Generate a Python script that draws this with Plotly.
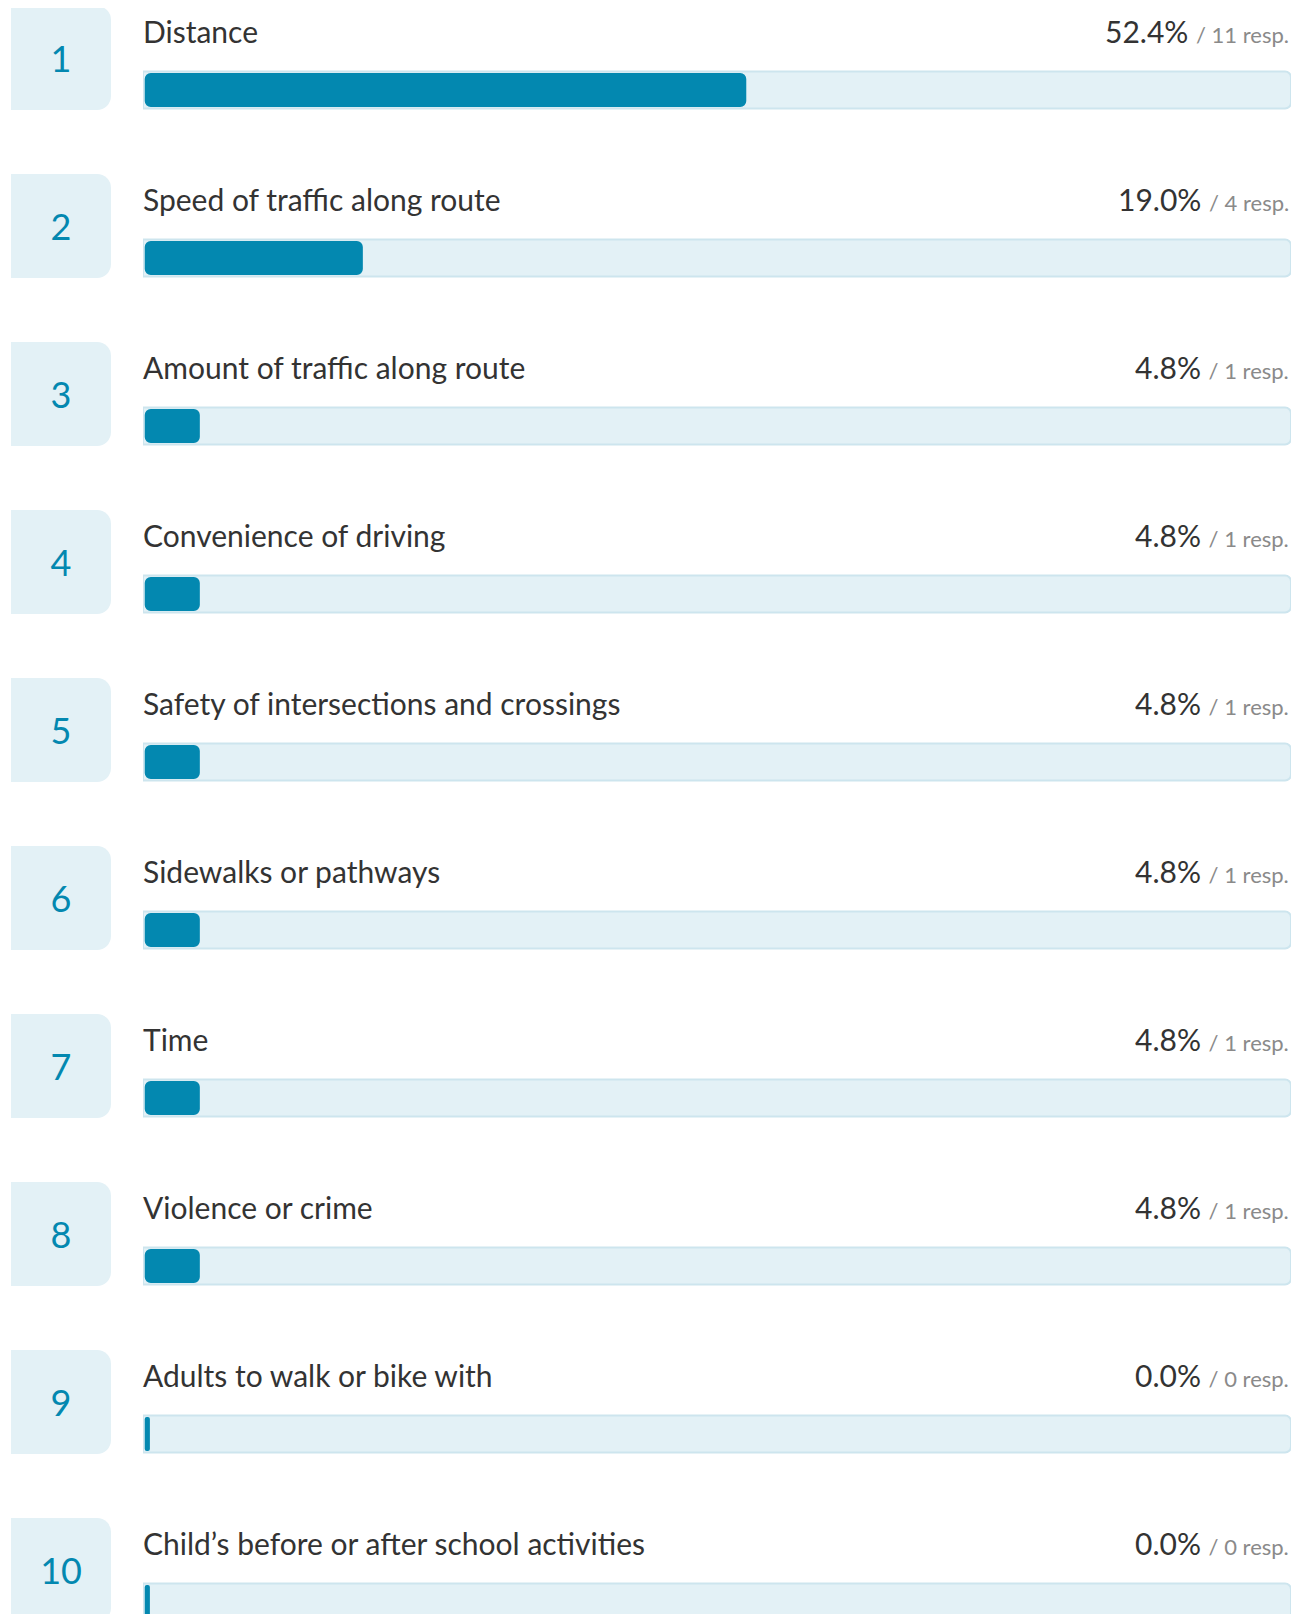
import plotly.graph_objects as go

# ---- data ----
ranks = [1, 2, 3, 4, 5, 6, 7, 8, 9, 10]
labels = [
    "Distance",
    "Speed of traffic along route",
    "Amount of traffic along route",
    "Convenience of driving",
    "Safety of intersections and crossings",
    "Sidewalks or pathways",
    "Time",
    "Violence or crime",
    "Adults to walk or bike with",
    "Child’s before or after school activities",
]
percents = [52.4, 19.0, 4.8, 4.8, 4.8, 4.8, 4.8, 4.8, 0.0, 0.0]
responses = [11, 4, 1, 1, 1, 1, 1, 1, 0, 0]

# ---- style ----
PAGE_MARGIN = 8        # browser default body margin
W, H = 1303 - PAGE_MARGIN, 1614 - PAGE_MARGIN
PITCH = 168.0          # px per row
TRACK_CENTER0 = 90.0 - PAGE_MARGIN
FONT = "Lato"
DARK = "#333333"
BLUE = "#0388b0"
LIGHT = "#e3f1f6"
BORDER = "#cde5ee"
GRAY = "#8a8a8a"

rows = list(range(len(labels)))
y_top = -TRACK_CENTER0 / PITCH
y_bot = (H - TRACK_CENTER0) / PITCH

fig = go.Figure()

# number boxes
fig.add_trace(go.Bar(
    x=[1] * len(rows), y=rows, orientation="h",
    xaxis="x2", yaxis="y",
    width=104 / PITCH, offset=-84 / PITCH,
    marker=dict(color=LIGHT, cornerradius=14, line=dict(width=0)),
    text=[str(r) for r in ranks], textposition="inside",
    insidetextanchor="middle", textangle=0, constraintext="none",
    textfont=dict(family=FONT, size=36, color=BLUE),
    hoverinfo="skip",
))

# tracks
fig.add_trace(go.Bar(
    x=[100] * len(rows), y=rows, orientation="h",
    width=37 / PITCH,
    marker=dict(color=LIGHT, cornerradius=6, line=dict(width=2, color=BORDER)),
    hoverinfo="skip",
))

# value fills (tiny minimum so 0% shows a sliver)
fig.add_trace(go.Bar(
    x=[max(p, 0.45) for p in percents], y=rows, orientation="h",
    base=0.15,
    width=34 / PITCH,
    marker=dict(color=BLUE, cornerradius=6, line=dict(width=0)),
    hoverinfo="skip",
))

annotations = []
label_dy = -59.0 / PITCH
for i, (lab, p, r) in enumerate(zip(labels, percents, responses)):
    annotations.append(dict(
        x=0, y=i + label_dy, xref="x", yref="y",
        text=lab, showarrow=False, xanchor="left", yanchor="middle",
        xshift=-2,
        font=dict(family=FONT, size=30, color=DARK),
    ))
    annotations.append(dict(
        x=100, y=i + label_dy, xref="x", yref="y",
        text=f"{p:.1f}% <span style='font-size:22px;color:{GRAY}'>/ {r} resp.</span>",
        showarrow=False, xanchor="right", yanchor="middle",
        font=dict(family=FONT, size=30, color=DARK),
    ))

fig.update_layout(
    width=W, height=H,
    margin=dict(l=0, r=0, t=0, b=0),
    paper_bgcolor="white", plot_bgcolor="white",
    barmode="overlay", showlegend=False,
    xaxis=dict(domain=[135 / W, 1283 / W], range=[0, 100], visible=False, fixedrange=True),
    xaxis2=dict(domain=[3 / W, 103 / W], range=[0, 1], visible=False, anchor="y", fixedrange=True),
    yaxis=dict(range=[y_bot, y_top], visible=False, fixedrange=True),
    annotations=annotations,
)

fig.write_html("out.html")
